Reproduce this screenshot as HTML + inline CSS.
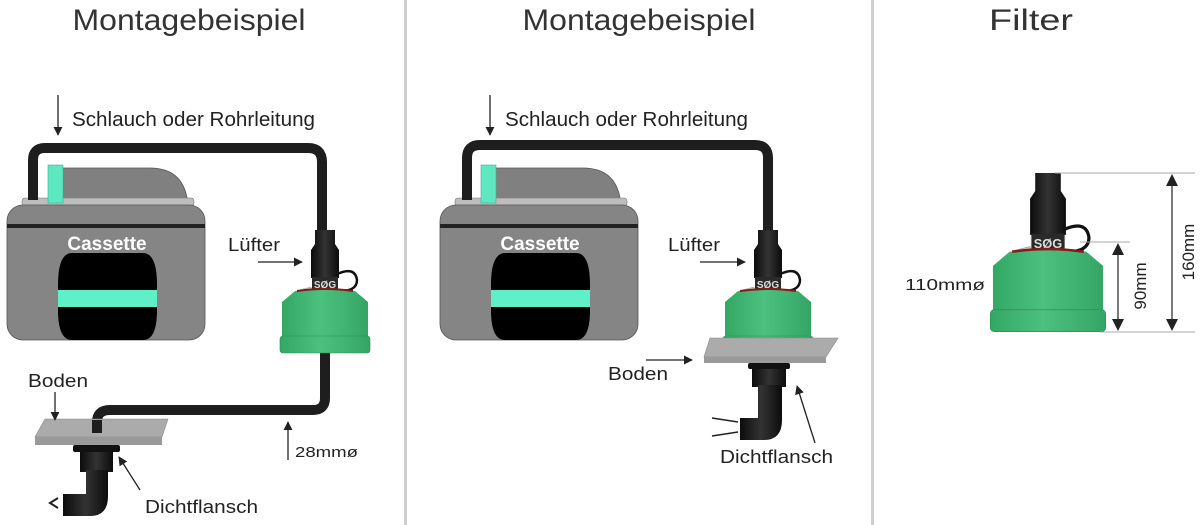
<!DOCTYPE html>
<html><head><meta charset="utf-8"><style>
html,body{margin:0;padding:0;background:#fff;}
svg{display:block;font-family:"Liberation Sans",sans-serif;}
</style></head><body>
<svg width="1200" height="525" viewBox="0 0 1200 525" xmlns="http://www.w3.org/2000/svg">
<defs>
<marker id="ah" viewBox="0 0 10 10" refX="9" refY="5" markerWidth="7" markerHeight="7" orient="auto"><path d="M0,0 L10,5 L0,10 z" fill="#222"/></marker>
<linearGradient id="gr" x1="0" x2="1"><stop offset="0" stop-color="#33a865"/><stop offset="0.45" stop-color="#4cc07f"/><stop offset="1" stop-color="#35a565"/></linearGradient>
<linearGradient id="bk" x1="0" x2="1"><stop offset="0" stop-color="#0c0c0c"/><stop offset="0.5" stop-color="#333"/><stop offset="1" stop-color="#0c0c0c"/></linearGradient>
<g id="cas">
 <path d="M50,205 V172 Q50,168 55,168 H150 Q185,168 188,205 Z" fill="#808080" stroke="#555" stroke-width="0.8"/>
 <rect x="22" y="198" width="172" height="8" rx="3" fill="#bdbdbd" stroke="#777" stroke-width="0.6"/>
 <rect x="7" y="205" width="198" height="135" rx="16" fill="#858585" stroke="#555" stroke-width="0.8"/>
 <rect x="7" y="224" width="198" height="4" fill="#222"/>
 <rect x="48" y="165" width="15" height="38" fill="#5ee8c0" stroke="#3fb090" stroke-width="0.6"/>
 <path d="M72,253 H143 Q157,253 157,285 V310 Q157,340 143,340 H72 Q58,340 58,310 V285 Q58,253 72,253 Z" fill="#000"/>
 <rect x="58" y="290" width="99" height="17" fill="#5ff0c8"/>
 <text x="107" y="250" font-size="19" font-weight="bold" fill="#fff" text-anchor="middle">Cassette</text>
</g>
<g id="filt">
 <path d="M-10,0 H10 V14 L14,20 V48 H-14 V20 L-10,14 Z" fill="url(#bk)"/>
 <rect x="-13" y="47" width="26" height="13" fill="#2a2a2a"/>
 <text x="0" y="58" font-size="10" font-weight="bold" fill="#ddd" text-anchor="middle">SØG</text>
 <path d="M12,44 Q30,36 32,50 Q32,62 12,61" fill="none" stroke="#111" stroke-width="2.5"/>
 <path d="M-26,60 L-14,57 L-12,67 L-24,70 Z" fill="#ccc" stroke="#999" stroke-width="0.5"/>
 <path d="M-30,61 Q0,58 30,61 L43,72 V110 H-43 V72 Z" fill="url(#gr)"/>
 <path d="M-28,61 Q0,57 28,61" stroke="#8a1a1a" stroke-width="2" fill="none"/>
 <rect x="-45" y="106" width="90" height="17" rx="3" fill="url(#gr)" stroke="#2c8f55" stroke-width="0.6"/>
</g>
</defs>

<rect x="404" y="0" width="3" height="525" fill="#cfcfcf"/>
<rect x="871" y="0" width="3" height="525" fill="#cfcfcf"/>

<text x="189" y="30" font-size="30" fill="#333" text-anchor="middle" textLength="233" lengthAdjust="spacingAndGlyphs">Montagebeispiel</text>
<text x="639" y="30" font-size="30" fill="#333" text-anchor="middle" textLength="233" lengthAdjust="spacingAndGlyphs">Montagebeispiel</text>
<text x="1031" y="30" font-size="30" fill="#333" text-anchor="middle" textLength="84" lengthAdjust="spacingAndGlyphs">Filter</text>

<!-- PANEL 1 -->
<use href="#cas"/>
<path d="M33,200 V160 Q33,148 45,148 H308 Q322,148 322,162 V232" fill="none" stroke="#1e1e1e" stroke-width="10"/>
<path d="M325,350 V398 Q325,410 313,410 H110 Q97,410 97,422 V432" fill="none" stroke="#1e1e1e" stroke-width="10"/>
<g transform="translate(325,230)"><use href="#filt"/></g>
<polygon points="45,419 168,419 162,437 35,437" fill="#ababab" stroke="#888" stroke-width="0.6"/>
<rect x="35" y="437" width="127" height="8" fill="#9a9a9a"/>
<path d="M97,420 V433" stroke="#1e1e1e" stroke-width="10"/>
<rect x="73" y="445" width="47" height="7" rx="2" fill="#111"/>
<rect x="80" y="452" width="33" height="20" fill="url(#bk)"/>
<path d="M86,470 H108 V496 Q108,516 90,516 H63 V494 H86 Z" fill="url(#bk)"/>
<path d="M58,498 L50,503 L58,508" fill="none" stroke="#222" stroke-width="2"/>

<line x1="58" y1="95" x2="58" y2="135" stroke="#222" stroke-width="1.3" marker-end="url(#ah)"/>
<text x="72" y="126" font-size="20" fill="#222" textLength="243" lengthAdjust="spacingAndGlyphs">Schlauch oder Rohrleitung</text>
<text x="228" y="251" font-size="18" fill="#222" textLength="52" lengthAdjust="spacingAndGlyphs">Lüfter</text>
<line x1="258" y1="262" x2="302" y2="262" stroke="#222" stroke-width="1.3" marker-end="url(#ah)"/>
<text x="28" y="387" font-size="18" fill="#222" textLength="60" lengthAdjust="spacingAndGlyphs">Boden</text>
<line x1="55" y1="392" x2="55" y2="420" stroke="#222" stroke-width="1.3" marker-end="url(#ah)"/>
<text x="145" y="513" font-size="18" fill="#222" textLength="113" lengthAdjust="spacingAndGlyphs">Dichtflansch</text>
<line x1="140" y1="490" x2="119" y2="457" stroke="#222" stroke-width="1.3" marker-end="url(#ah)"/>
<line x1="288" y1="460" x2="288" y2="422" stroke="#222" stroke-width="1.3" marker-end="url(#ah)"/>
<text x="295" y="457" font-size="15" fill="#222" textLength="63" lengthAdjust="spacingAndGlyphs">28mmø</text>

<!-- PANEL 2 -->
<g transform="translate(433,0)"><use href="#cas"/></g>
<path d="M467,200 V158 Q467,145 480,145 H755 Q768,145 768,158 V232" fill="none" stroke="#1e1e1e" stroke-width="10"/>
<g transform="translate(768,230)"><use href="#filt"/></g>
<polygon points="710,338 838,338 826,357 704,357" fill="#ababab" stroke="#888" stroke-width="0.6"/>
<rect x="704" y="357" width="122" height="6" fill="#9a9a9a"/>
<rect x="748" y="363" width="42" height="6" rx="2" fill="#111"/>
<rect x="752" y="369" width="34" height="18" fill="url(#bk)"/>
<path d="M758,385 H782 V420 Q782,440 764,440 H740 V418 H758 Z" fill="url(#bk)"/>
<path d="M738,422 L712,418 M738,432 L712,436" stroke="#222" stroke-width="1.5"/>

<line x1="490" y1="95" x2="490" y2="135" stroke="#222" stroke-width="1.3" marker-end="url(#ah)"/>
<text x="505" y="126" font-size="20" fill="#222" textLength="243" lengthAdjust="spacingAndGlyphs">Schlauch oder Rohrleitung</text>
<text x="668" y="251" font-size="18" fill="#222" textLength="52" lengthAdjust="spacingAndGlyphs">Lüfter</text>
<line x1="700" y1="262" x2="745" y2="262" stroke="#222" stroke-width="1.3" marker-end="url(#ah)"/>
<text x="608" y="380" font-size="18" fill="#222" textLength="60" lengthAdjust="spacingAndGlyphs">Boden</text>
<line x1="646" y1="360" x2="692" y2="360" stroke="#222" stroke-width="1.3" marker-end="url(#ah)"/>
<text x="720" y="463" font-size="18" fill="#222" textLength="113" lengthAdjust="spacingAndGlyphs">Dichtflansch</text>
<line x1="815" y1="443" x2="797" y2="386" stroke="#222" stroke-width="1.3" marker-end="url(#ah)"/>

<!-- PANEL 3 -->
<g transform="translate(1048,173) scale(1.28,1.29)"><use href="#filt"/></g>
<line x1="1055" y1="173" x2="1195" y2="173" stroke="#aaa" stroke-width="1"/>
<line x1="1080" y1="242" x2="1130" y2="242" stroke="#aaa" stroke-width="1"/>
<line x1="1100" y1="332" x2="1195" y2="332" stroke="#aaa" stroke-width="1"/>
<line x1="1172" y1="185" x2="1172" y2="320" stroke="#333" stroke-width="1.3"/>
<polygon points="1172,174 1166,186 1178,186" fill="#222"/>
<polygon points="1172,331 1166,319 1178,319" fill="#222"/>
<line x1="1118" y1="253" x2="1118" y2="320" stroke="#333" stroke-width="1.3"/>
<polygon points="1118,243 1112,255 1124,255" fill="#222"/>
<polygon points="1118,331 1112,319 1124,319" fill="#222"/>
<text transform="translate(1194,252) rotate(-90)" font-size="17" fill="#222" text-anchor="middle">160mm</text>
<text transform="translate(1146,286) rotate(-90)" font-size="17" fill="#222" text-anchor="middle">90mm</text>
<text x="905" y="290" font-size="16" fill="#222" textLength="80" lengthAdjust="spacingAndGlyphs">110mmø</text>
</svg>
</body></html>
